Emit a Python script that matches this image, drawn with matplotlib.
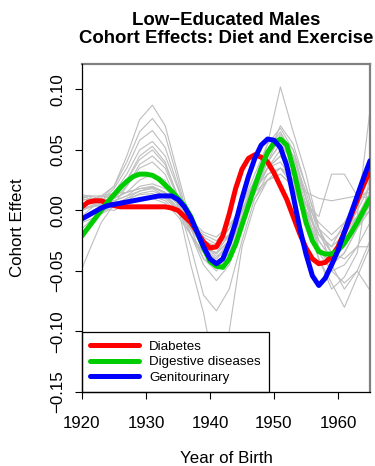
import matplotlib
matplotlib.use("Agg")
import matplotlib.pyplot as plt

plt.rcParams['font.family'] = ['Liberation Sans', 'DejaVu Sans']

# yearly values for the three highlighted outcomes
years = list(range(1920, 1966))
diabetes = [0.003, 0.007, 0.008, 0.008, 0.006, 0.004, 0.003, 0.003, 0.003, 0.003,
            0.003, 0.003, 0.003, 0.003, 0.002, 0.000, -0.005, -0.010, -0.018, -0.026,
            -0.031, -0.030, -0.021, -0.003, 0.018, 0.034, 0.043, 0.046, 0.044, 0.040,
            0.031, 0.020, 0.009, -0.005, -0.019, -0.031, -0.040, -0.044, -0.043, -0.038,
            -0.030, -0.018, -0.005, 0.008, 0.021, 0.033]
digestive = [-0.021, -0.014, -0.007, 0.000, 0.007, 0.013, 0.019, 0.024, 0.028, 0.030,
             0.030, 0.029, 0.026, 0.021, 0.016, 0.010, 0.004, -0.005, -0.018, -0.031,
             -0.042, -0.046, -0.047, -0.040, -0.028, -0.012, 0.004, 0.020, 0.035, 0.048,
             0.056, 0.059, 0.054, 0.035, 0.012, -0.010, -0.025, -0.034, -0.036, -0.036,
             -0.033, -0.027, -0.019, -0.010, 0.000, 0.010]
genito = [-0.007, -0.004, -0.001, 0.002, 0.004, 0.005, 0.006, 0.007, 0.008, 0.009,
          0.010, 0.011, 0.012, 0.012, 0.012, 0.009, 0.003, -0.006, -0.018, -0.030,
          -0.040, -0.044, -0.040, -0.027, -0.010, 0.010, 0.028, 0.043, 0.054, 0.059,
          0.058, 0.052, 0.037, 0.012, -0.014, -0.036, -0.054, -0.062, -0.056, -0.045,
          -0.033, -0.018, -0.003, 0.012, 0.027, 0.041]

# other outcomes (grey background lines)
gyears = [1920, 1921, 1923, 1925, 1927, 1929, 1931, 1933, 1935, 1937, 1939, 1941,
          1943, 1945, 1947, 1949, 1951, 1953, 1955, 1957, 1959, 1961, 1963, 1965]
others = [
    [0.010, 0.012, 0.010, 0.020, 0.045, 0.075, 0.087, 0.070, 0.030, -0.010, -0.025, -0.030,
     -0.020, 0.000, 0.020, 0.035, 0.045, 0.030, 0.000, -0.020, -0.030, -0.020, -0.005, 0.010],
    [0.005, 0.008, 0.012, 0.020, 0.040, 0.065, 0.076, 0.062, 0.025, -0.015, -0.040, -0.050,
     -0.035, -0.010, 0.020, 0.050, 0.065, 0.045, 0.010, -0.025, -0.040, -0.030, -0.010, 0.005],
    [0.000, 0.003, 0.008, 0.018, 0.035, 0.058, 0.066, 0.052, 0.020, -0.015, -0.030, -0.035,
     -0.020, 0.005, 0.030, 0.055, 0.068, 0.050, 0.010, -0.030, -0.045, -0.035, -0.015, 0.000],
    [-0.005, 0.000, 0.008, 0.015, 0.030, 0.050, 0.057, 0.045, 0.018, -0.010, -0.025, -0.030,
     -0.015, 0.005, 0.025, 0.045, 0.060, 0.045, 0.015, -0.020, -0.035, -0.025, -0.005, 0.015],
    [0.013, 0.012, 0.005, 0.010, 0.025, 0.045, 0.053, 0.040, 0.010, -0.020, -0.035, -0.045,
     -0.030, -0.005, 0.020, 0.040, 0.055, 0.040, 0.005, -0.025, -0.040, -0.020, 0.000, 0.020],
    [0.000, 0.002, 0.005, 0.012, 0.025, 0.042, 0.050, 0.038, 0.012, -0.010, -0.028, -0.038,
     -0.030, -0.008, 0.015, 0.035, 0.050, 0.035, 0.000, -0.030, -0.050, -0.060, -0.050, -0.066],
    [-0.048, -0.035, -0.010, 0.005, 0.020, 0.038, 0.045, 0.035, 0.010, -0.020, -0.045, -0.058,
     -0.045, -0.015, 0.015, 0.035, 0.040, 0.025, -0.010, -0.035, -0.050, -0.045, -0.030, -0.030],
    [0.008, 0.010, 0.008, 0.010, 0.020, 0.035, 0.040, 0.030, 0.005, -0.030, -0.070, -0.083,
     -0.065, -0.025, 0.010, 0.030, 0.035, 0.020, -0.010, -0.040, -0.060, -0.080, -0.055, -0.030],
    [0.010, 0.012, 0.012, 0.010, 0.015, 0.025, 0.030, 0.025, 0.003, -0.045, -0.085, -0.140,
     -0.100, -0.030, 0.005, 0.025, 0.030, 0.020, -0.005, -0.030, -0.045, -0.035, -0.015, 0.005],
    [0.012, 0.010, 0.005, 0.008, 0.012, 0.020, 0.022, 0.018, 0.008, -0.010, -0.030, -0.040,
     -0.025, 0.000, 0.025, 0.055, 0.102, 0.065, 0.030, -0.015, -0.035, -0.030, -0.010, 0.000],
    [0.005, 0.005, 0.008, 0.010, 0.015, 0.018, 0.020, 0.015, 0.005, -0.010, -0.020, -0.025,
     -0.015, 0.000, 0.020, 0.040, 0.055, 0.040, 0.010, -0.015, -0.025, -0.015, -0.005, 0.083],
    [0.000, 0.003, 0.005, 0.008, 0.012, 0.016, 0.018, 0.012, 0.000, -0.020, -0.040, -0.048,
     -0.035, -0.010, 0.015, 0.035, 0.045, 0.030, 0.000, -0.020, -0.030, -0.010, 0.010, 0.030],
    [-0.010, -0.008, -0.003, 0.003, 0.008, 0.014, 0.016, 0.012, 0.002, -0.012, -0.022, -0.028,
     -0.020, 0.000, 0.018, 0.030, 0.035, 0.025, 0.005, -0.005, 0.030, 0.030, 0.012, 0.010],
    [0.005, 0.008, 0.012, 0.014, 0.015, 0.018, 0.019, 0.015, 0.005, -0.008, -0.018, -0.022,
     -0.012, 0.002, 0.015, 0.025, 0.030, 0.020, 0.005, -0.010, -0.020, -0.010, 0.005, 0.020],
    [-0.015, -0.010, -0.002, 0.005, 0.010, 0.013, 0.014, 0.010, 0.000, -0.015, -0.030, -0.035,
     -0.025, -0.005, 0.015, 0.040, 0.063, 0.050, 0.020, -0.015, -0.045, -0.065, -0.050, -0.025],
    [0.002, 0.003, 0.004, 0.006, 0.008, 0.010, 0.010, 0.006, -0.005, -0.020, -0.035, -0.040,
     -0.030, -0.008, 0.010, 0.025, 0.035, 0.030, 0.015, 0.010, 0.008, 0.010, 0.012, 0.015],
    [0.010, 0.008, 0.002, 0.000, 0.005, 0.010, 0.012, 0.008, -0.002, -0.015, -0.028, -0.032,
     -0.022, -0.002, 0.020, 0.045, 0.070, 0.055, 0.020, -0.015, -0.035, -0.040, -0.030, -0.010],
    [-0.005, -0.003, 0.000, 0.004, 0.010, 0.016, 0.019, 0.014, 0.002, -0.015, -0.030, -0.036,
     -0.025, 0.000, 0.025, 0.045, 0.058, 0.040, 0.000, -0.040, -0.065, -0.055, -0.035, 0.030],
]

labels = ["Diabetes", "Digestive diseases", "Genitourinary"]
colors = ["#FF0000", "#00CD00", "#0000FF"]
xticks = [1920, 1930, 1940, 1950, 1960]
yticks = [-0.15, -0.10, -0.05, 0.00, 0.05, 0.10]


def draw():
    fig = plt.figure(figsize=(3.75, 4.66), dpi=100)
    ax = fig.add_axes([82 / 375, 1 - 392 / 466, 288 / 375, 328 / 466])

    for vals in others:
        ax.plot(gyears, vals, color="#BEBEBE", lw=0.8, zorder=1)

    for vals, lab, col in zip([diabetes, digestive, genito], labels, colors):
        ax.plot(years, vals, color=col, lw=3.6, label=lab, zorder=3,
                solid_capstyle="round", solid_joinstyle="round")

    ax.set_xlim(1920, 1965)
    ax.set_ylim(-0.15, 0.121)
    ax.set_xticks(xticks)
    ax.set_yticks(yticks)
    ax.yaxis.set_major_formatter(matplotlib.ticker.FuncFormatter(
        lambda v, p: ("%.2f" % v).replace("-", "\u2212")))
    ax.tick_params(labelsize=12.2, length=5, width=0.8)
    ax.tick_params(axis="x", pad=12)
    ax.tick_params(axis="y", pad=7)
    for t in ax.get_yticklabels():
        t.set_rotation(90)
        t.set_va("center")

    for s in ["top", "right"]:
        ax.spines[s].set_color("#808080")
        ax.spines[s].set_linewidth(1.6)
    for s in ["left", "bottom"]:
        ax.spines[s].set_color("black")
        ax.spines[s].set_linewidth(0.9)
        ax.spines[s].set_zorder(5)

    ax.set_xlabel("Year of Birth", fontsize=12.2, labelpad=15)
    ax.set_ylabel("Cohort Effect", fontsize=12.2, labelpad=18)
    ax.set_title("Low\u2212Educated Males\nCohort Effects: Diet and Exercise",
                 fontsize=13.4, fontweight="bold", pad=15, linespacing=1.1)

    leg = ax.legend(loc="lower left", bbox_to_anchor=(0, 0), borderaxespad=0,
                    fontsize=9.6, fancybox=False, framealpha=1, edgecolor="black",
                    handlelength=3.7, handletextpad=0.75, labelspacing=0.25,
                    borderpad=0.6)
    leg.get_frame().set_linewidth(0.9)
    leg.set_zorder(4)

    fig.savefig("out.png", dpi=100)


if __name__ == "__main__":
    draw()
